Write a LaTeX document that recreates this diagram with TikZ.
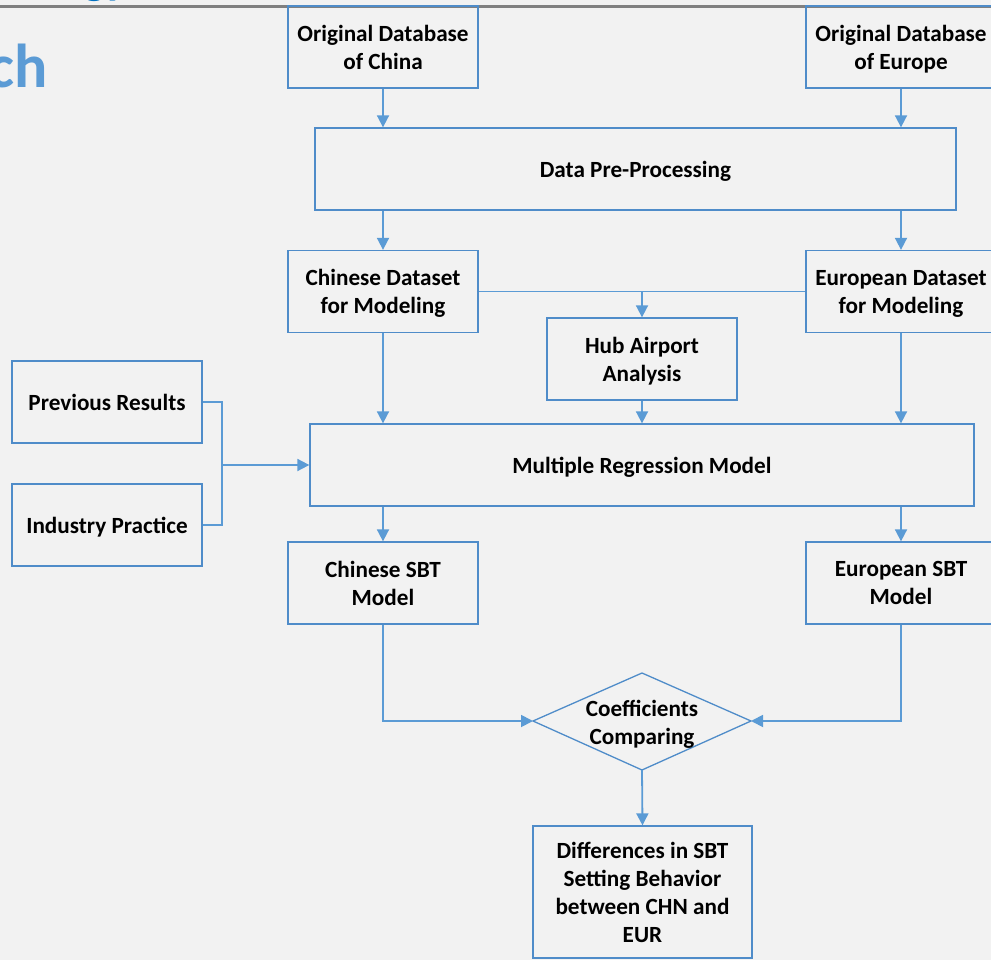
\documentclass[tikz,border=0pt]{standalone}
\usepackage{fontspec}
\setmainfont{Carlito}
\usetikzlibrary{arrows.meta}
\definecolor{bgc}{HTML}{F2F2F2}
\definecolor{edge}{HTML}{5B9BD5}
\definecolor{boxedge}{HTML}{4F8CC9}
\definecolor{titlea}{HTML}{0070C0}
\definecolor{titleb}{HTML}{5B9BD5}
\tikzset{
  box/.style={draw=boxedge, line width=1.3pt, minimum width=190pt, minimum height=82pt,
    inner sep=0pt, align=center, text depth=0pt, font=\fontsize{23.2}{28}\selectfont\bfseries},
  lbl/.style={inner sep=0pt, align=center, text depth=0pt, font=\fontsize{23.2}{28}\selectfont\bfseries},
  conn/.style={draw=edge, line width=1.8pt},
  arr/.style={conn, -{Triangle[length=12pt,width=12pt]}},
}
\begin{document}
\begin{tikzpicture}[x=1pt,y=-1pt]
\path[use as bounding box, fill=bgc] (0,0) rectangle (991,960);
\clip (0,0) rectangle (991,960);
% title fragments
\node[anchor=base west, inner sep=0pt, text=titlea, font=\fontsize{48}{50}\selectfont\bfseries] (tg) at (83,-6) {gy};
\draw[color=gray, line width=3pt] (0,6.5) -- (991,6.5);
\node[anchor=base east, inner sep=0pt, text=titleb, font=\fontsize{62}{64}\selectfont\bfseries] (tc) at (48,88) {ch};
% boxes
\node[box] (oc) at (383,47) {Original Database\\of China};
\node[box] (oe) at (901,47) {Original Database\\of Europe};
\node[box, minimum width=641pt] (dpp) at (635.5,169) {Data Pre-Processing};
\node[box] (cd) at (383,291.5) {Chinese Dataset\\for Modeling};
\node[box] (ed) at (901,291.5) {European Dataset\\for Modeling};
\node[box] (hub) at (642,359) {Hub Airport\\Analysis};
\node[box, minimum width=664pt] (mrm) at (642,465) {Multiple Regression Model};
\node[box] (pr) at (107,402) {Previous Results};
\node[box] (ip) at (107,525) {Industry Practice};
\node[box] (cs) at (383,583) {Chinese SBT\\Model};
\node[box] (es) at (901,583) {European SBT\\Model};
\node[box, minimum width=219pt, minimum height=132pt] (diff) at (642.5,892) {Differences in SBT\\Setting Behavior\\between CHN and\\EUR};
% diamond
\coordinate (cmpL) at (533,721);
\coordinate (cmpR) at (751,721);
\coordinate (cmpT) at (642,673);
\coordinate (cmpB) at (642,770);
\draw[draw=boxedge, line width=1.3pt] (cmpL) -- (cmpT) -- (cmpR) -- (cmpB) -- cycle;
\node[lbl] (cmp) at (642,722) {Coefficients\\Comparing};
% connectors
\draw[arr] (oc.south) -- (oc.south |- dpp.north);
\draw[arr] (oe.south) -- (oe.south |- dpp.north);
\draw[arr] (cd.north |- dpp.south) -- (cd.north);
\draw[arr] (ed.north |- dpp.south) -- (ed.north);
\draw[conn] (cd.east) -- (ed.west);
\draw[arr] (hub.north |- cd.east) -- (hub.north);
\draw[arr] (cd.south) -- (cd.south |- mrm.north);
\draw[arr] (hub.south) -- (hub.south |- mrm.north);
\draw[arr] (ed.south) -- (ed.south |- mrm.north);
\coordinate (j) at (222,465);
\draw[conn] (pr.east) -| (j) |- (ip.east);
\draw[arr] (j) -- (mrm.west);
\draw[arr] (cs.north |- mrm.south) -- (cs.north);
\draw[arr] (es.north |- mrm.south) -- (es.north);
\draw[arr] (cs.south) |- (cmpL);
\draw[arr] (es.south) |- (cmpR);
\draw[arr] (cmpB) -- (diff.north);
\end{tikzpicture}
\end{document}
